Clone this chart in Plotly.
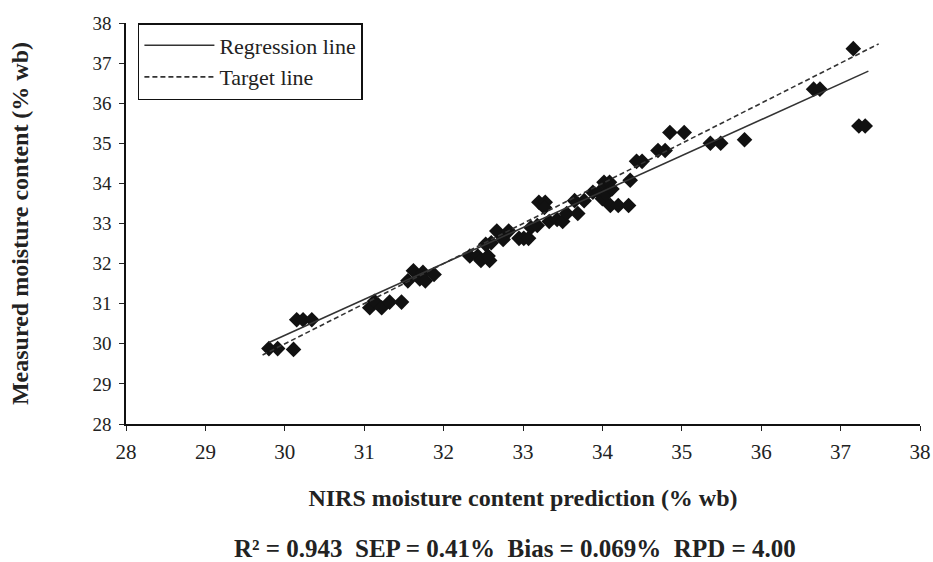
import plotly.graph_objects as go

# NIRS predicted (x) vs measured (y) moisture content, % wb
pred = [29.80, 29.91, 30.11, 30.15, 30.23, 30.34, 31.07, 31.13, 31.22, 31.32,
        31.47, 31.55, 31.62, 31.70, 31.74, 31.77, 31.88, 32.33, 32.43, 32.47,
        32.58, 32.56, 32.53, 32.60, 32.67, 32.75, 32.82, 32.95, 33.01, 33.07,
        33.10, 33.18, 33.20, 33.28, 33.27, 33.33, 33.43, 33.50, 33.55, 33.65,
        33.69, 33.77, 33.88, 33.96, 34.02, 34.09, 34.00, 34.05, 34.12, 34.10,
        34.20, 34.33, 34.35, 34.43, 34.50, 34.70, 34.79, 34.85, 35.03, 35.36,
        35.49, 35.79, 36.66, 36.74, 37.16, 37.23, 37.31]
measured = [29.88, 29.88, 29.86, 30.60, 30.60, 30.60, 30.90, 31.06, 30.90, 31.04,
            31.04, 31.57, 31.82, 31.62, 31.78, 31.57, 31.73, 32.19, 32.19, 32.08,
            32.08, 32.19, 32.48, 32.52, 32.81, 32.60, 32.81, 32.63, 32.63, 32.63,
            32.90, 32.95, 33.53, 33.53, 33.40, 33.05, 33.10, 33.05, 33.25, 33.57,
            33.25, 33.57, 33.78, 33.78, 34.03, 34.03, 33.62, 33.74, 33.86, 33.45,
            33.45, 33.45, 34.08, 34.55, 34.55, 34.82, 34.82, 35.27, 35.27, 35.00,
            35.00, 35.09, 36.35, 36.35, 37.36, 35.43, 35.43]

reg_x = [29.80, 37.35]
reg_y = [30.03, 36.80]
target_x = [29.72, 37.48]
target_y = [29.72, 37.48]

ticks = list(range(28, 39))
tick_labels = [str(t) for t in ticks]

FONT = "Liberation Serif"
TXT = "#222222"

fig = go.Figure()
fig.add_trace(go.Scatter(
    x=pred, y=measured, mode="markers", showlegend=False,
    marker=dict(symbol="diamond", size=12, color="#111111")))
fig.add_trace(go.Scatter(
    x=reg_x, y=reg_y, mode="lines", name="Regression line", legendgroup="a",
    line=dict(color="#333333", width=1.6)))
fig.add_trace(go.Scatter(
    x=target_x, y=target_y, mode="lines", name="Target line", legendgroup="b",
    line=dict(color="#333333", width=1.6, dash="5px,3px")))

axis_common = dict(
    range=[28, 38], tickmode="array", tickvals=ticks, ticktext=tick_labels,
    ticks="outside", ticklen=5, tickwidth=1.2, tickcolor="#222",
    showline=True, linecolor="#111", linewidth=1.5,
    showgrid=False, zeroline=False, automargin=False)

fig.update_layout(
    width=933, height=562,
    margin=dict(l=126, r=13, t=23, b=138),
    paper_bgcolor="white", plot_bgcolor="white",
    xaxis=dict(axis_common,
               tickfont=dict(family=FONT, size=21, color=TXT),
               ticklabelstandoff=3,
               title=dict(text="<b>NIRS moisture content prediction (% wb)</b>",
                          font=dict(family=FONT, size=24, color=TXT), standoff=26)),
    yaxis=dict(axis_common,
               tickfont=dict(family=FONT, size=19, color=TXT),
               ticklabelstandoff=4,
               title=dict(text="<b>Measured moisture content (% wb)</b>",
                          font=dict(family=FONT, size=24, color=TXT), standoff=57)),
    legend=dict(x=0.015, y=1.0, xanchor="left", yanchor="top",
                bordercolor="#111", borderwidth=1.5, bgcolor="white",
                font=dict(family=FONT, size=22, color=TXT),
                itemwidth=70, tracegroupgap=0),
    annotations=[dict(
        text="<b>R² = 0.943&nbsp;&nbsp;SEP = 0.41%&nbsp;&nbsp;Bias = 0.069%&nbsp;&nbsp;RPD = 4.00</b>",
        xref="paper", yref="paper", x=0.49, y=-0.31, xanchor="center", yanchor="middle",
        showarrow=False, font=dict(family=FONT, size=25, color=TXT))],
)

fig.write_html("out.html")
